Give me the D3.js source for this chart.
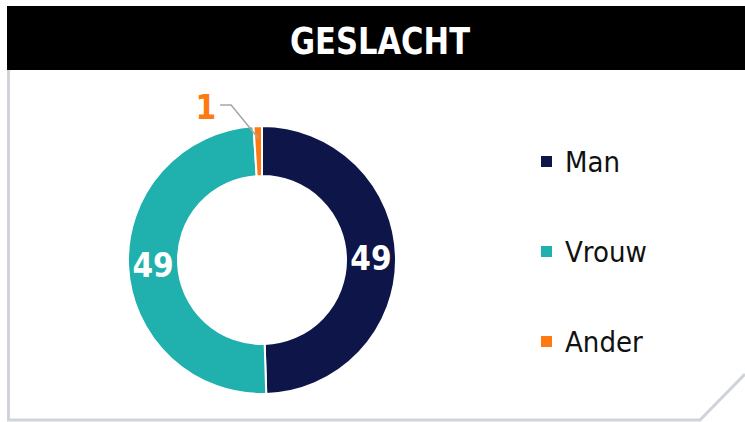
<!DOCTYPE html>
<html lang="nl">
<head>
  <meta charset="UTF-8">
  <title>Geslacht</title>
  <script src="https://d3js.org/d3.v7.min.js"></script>
  <style>
    body { margin: 0; background: #fff; }
    svg { display: block; }
  </style>
</head>
<body>
  <svg id="chart" width="745" height="422"></svg>

  <script>
    // Data
    const categories = ['Man', 'Vrouw', 'Ander'];
    const values = [49, 49, 1];
    const colors = ['#0e1548', '#20b0ad', '#ff7a12'];
    const title = 'GESLACHT';

    const svg = d3.select('#chart');
    const W = 745, H = 422;
    const font = '"DejaVu Sans Condensed", "DejaVu Sans", sans-serif';

    // Frame: grey border left/bottom with a cut corner bottom right
    svg.append('path')
      .attr('d', `M8.5,70 L8.5,420 L700,420 L745,374`)
      .attr('fill', 'none')
      .attr('stroke', '#d0d3d8')
      .attr('stroke-width', 3);

    // Title bar
    svg.append('rect')
      .attr('x', 7).attr('y', 6)
      .attr('width', W - 7).attr('height', 64)
      .attr('fill', '#000');

    svg.append('text')
      .attr('x', 380).attr('y', 41)
      .attr('text-anchor', 'middle')
      .attr('dominant-baseline', 'central')
      .attr('fill', '#fff')
      .attr('textLength', 180)
      .attr('lengthAdjust', 'spacingAndGlyphs')
      .style('font-family', font)
      .style('font-weight', 'bold')
      .style('font-size', '38px')
      .text(title);

    // Donut
    const cx = 262, cy = 260, outerR = 134, innerR = 84;
    const data = categories.map((c, i) => ({ name: c, value: values[i], color: colors[i] }));

    const pie = d3.pie().value(d => d.value).sort(null);
    const arc = d3.arc().innerRadius(innerR).outerRadius(outerR);
    const arcs = pie(data);

    const g = svg.append('g').attr('transform', `translate(${cx},${cy})`);

    g.selectAll('path.slice')
      .data(arcs)
      .join('path')
      .attr('class', 'slice')
      .attr('d', arc)
      .attr('fill', d => d.data.color)
      .attr('stroke', '#fff')
      .attr('stroke-width', 2);

    // Labels inside the two large slices
    const labelArc = d3.arc().innerRadius((innerR + outerR) / 2).outerRadius((innerR + outerR) / 2);
    g.selectAll('text.lbl')
      .data(arcs.filter(d => d.data.value > 5))
      .join('text')
      .attr('class', 'lbl')
      .attr('transform', d => `translate(${labelArc.centroid(d)})`)
      .attr('text-anchor', 'middle')
      .attr('dominant-baseline', 'central')
      .attr('fill', '#fff')
      .style('font-family', font)
      .style('font-weight', 'bold')
      .style('font-size', '33px')
      .text(d => d.data.value);

    // Small slice label with leader line
    const small = arcs.find(d => d.data.value <= 5);
    const mid = (small.startAngle + small.endAngle) / 2;
    const pIn = [Math.sin(mid) * (outerR - 12), -Math.cos(mid) * (outerR - 12)];
    const pElbow = [pIn[0] - 27, -155];
    const pEnd = [pElbow[0] - 11, -155];
    g.append('polyline')
      .attr('points', [pIn, pElbow, pEnd].map(p => p.join(',')).join(' '))
      .attr('fill', 'none')
      .attr('stroke', '#a6a6a6')
      .attr('stroke-width', 1.5);
    g.append('text')
      .attr('x', pEnd[0] - 4).attr('y', pEnd[1] + 2)
      .attr('text-anchor', 'end')
      .attr('dominant-baseline', 'central')
      .attr('fill', small.data.color)
      .style('font-family', font)
      .style('font-weight', 'bold')
      .style('font-size', '33px')
      .text(small.data.value);

    // Legend
    const legendY = d3.scalePoint().domain(categories).range([161, 341]);
    const leg = svg.append('g')
      .selectAll('g')
      .data(data)
      .join('g')
      .attr('transform', d => `translate(541,${legendY(d.name)})`);

    leg.append('rect')
      .attr('x', 0).attr('y', -5)
      .attr('width', 11).attr('height', 11)
      .attr('fill', d => d.color);

    leg.append('text')
      .attr('x', 24).attr('y', 1)
      .attr('dominant-baseline', 'central')
      .attr('fill', '#111')
      .style('font-family', font)
      .style('font-size', '29px')
      .text(d => d.name);
  </script>
</body>
</html>
